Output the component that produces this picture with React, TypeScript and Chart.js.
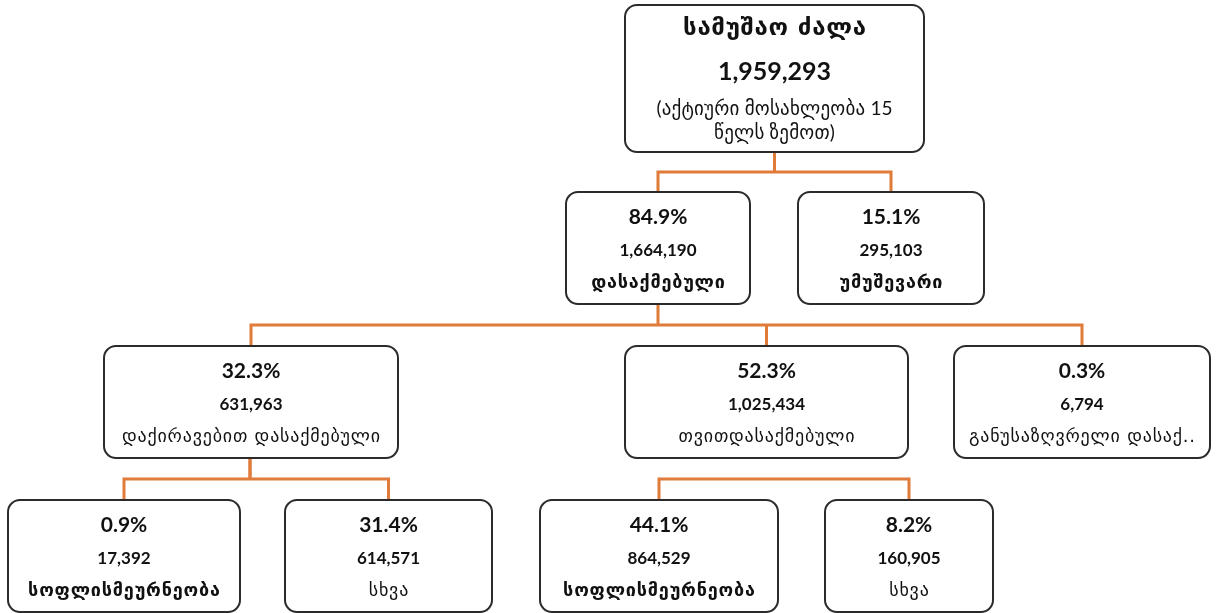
import React, { useEffect, useRef } from "react";
import { Chart, registerables } from "chart.js";

Chart.register(...registerables);

// ---- data ----
const nodeNames = [
  "სამუშაო ძალა",
  "დასაქმებული",
  "უმუშევარი",
  "დაქირავებით დასაქმებული",
  "თვითდასაქმებული",
  "განუსაზღვრელი დასაქ..",
  "სოფლისმეურნეობა",
  "სხვა",
  "სოფლისმეურნეობა",
  "სხვა",
];
const nodeShares = ["", "84.9%", "15.1%", "32.3%", "52.3%", "0.3%", "0.9%", "31.4%", "44.1%", "8.2%"];
const nodeValues = [1959293, 1664190, 295103, 631963, 1025434, 6794, 17392, 614571, 864529, 160905];
const nodeParents = [-1, 0, 0, 1, 1, 1, 3, 3, 4, 4];
const nodeBoldName = [true, true, true, false, false, false, true, false, true, false];
const rootNoteLines = ["(აქტიური მოსახლეობა 15", "წელს ზემოთ)"];

// ---- layout (in chart units) ----
const nodeLevel = [0, 1, 1, 2, 2, 2, 3, 3, 3, 3];
const nodeCenterX = [774.5, 658, 891, 251, 766.5, 1082, 124, 388.5, 659, 909];
const nodeWidth = [299, 184, 186, 294, 283, 256, 232, 207, 238, 168];
const levelTop = [5, 192, 346, 500];
const levelBottom = [152, 304, 458, 612];
const connectorX = [774.5, 658, 250, 766.5];

const ORANGE = "#E07B39";
const BORDER = "#2b2b2b";
const GEO = '"DejaVu Sans"';
const NUM = 'Lato, "DejaVu Sans"';

function roundRect(ctx: CanvasRenderingContext2D, x: number, y: number, w: number, h: number, r: number) {
  ctx.beginPath();
  ctx.moveTo(x + r, y);
  ctx.lineTo(x + w - r, y);
  ctx.arcTo(x + w, y, x + w, y + r, r);
  ctx.lineTo(x + w, y + h - r);
  ctx.arcTo(x + w, y + h, x + w - r, y + h, r);
  ctx.lineTo(x + r, y + h);
  ctx.arcTo(x, y + h, x, y + h - r, r);
  ctx.lineTo(x, y + r);
  ctx.arcTo(x, y, x + r, y, r);
  ctx.closePath();
}

function spacedText(ctx: any, text: string, x: number, y: number, spacing: number) {
  ctx.letterSpacing = `${spacing}px`;
  ctx.fillText(text, x + spacing / 2, y);
  ctx.letterSpacing = "0px";
}

const treePlugin = {
  id: "tree",
  beforeDatasetsDraw(chart: any) {
    const ctx: CanvasRenderingContext2D = chart.ctx;
    const xs = chart.scales.x;
    const ys = chart.scales.y;
    ctx.save();
    ctx.strokeStyle = ORANGE;
    ctx.lineWidth = 3;
    ctx.lineCap = "butt";
    nodeNames.forEach((_, p) => {
      const kids = nodeParents.map((pp, i) => (pp === p ? i : -1)).filter((i) => i >= 0);
      if (!kids.length) return;
      const lv = nodeLevel[p];
      const px = xs.getPixelForValue(connectorX[lv] ?? nodeCenterX[p]);
      const py0 = ys.getPixelForValue(levelBottom[lv]);
      const childTop = ys.getPixelForValue(levelTop[lv + 1]);
      const midY = (py0 + childTop) / 2;
      const kxs = kids.map((k) => xs.getPixelForValue(nodeCenterX[k]));
      ctx.beginPath();
      ctx.moveTo(px, py0);
      ctx.lineTo(px, midY);
      ctx.moveTo(Math.min(...kxs) - 1.5, midY);
      ctx.lineTo(Math.max(...kxs) + 1.5, midY);
      kxs.forEach((kx) => {
        ctx.moveTo(kx, midY);
        ctx.lineTo(kx, childTop);
      });
      ctx.stroke();
    });
    ctx.restore();
  },
  afterDatasetsDraw(chart: any) {
    const ctx: CanvasRenderingContext2D = chart.ctx;
    const xs = chart.scales.x;
    const ys = chart.scales.y;
    ctx.save();
    nodeNames.forEach((name, i) => {
      const lv = nodeLevel[i];
      const cx = xs.getPixelForValue(nodeCenterX[i]);
      const left = xs.getPixelForValue(nodeCenterX[i] - nodeWidth[i] / 2);
      const right = xs.getPixelForValue(nodeCenterX[i] + nodeWidth[i] / 2);
      const top = ys.getPixelForValue(levelTop[lv]);
      const bottom = ys.getPixelForValue(levelBottom[lv]);
      roundRect(ctx, left, top, right - left, bottom - top, 12);
      ctx.fillStyle = "#ffffff";
      ctx.fill();
      ctx.strokeStyle = BORDER;
      ctx.lineWidth = 2;
      ctx.stroke();

      ctx.fillStyle = "#111111";
      ctx.textAlign = "center";
      ctx.textBaseline = "middle";
      const valueText = nodeValues[i].toLocaleString("en-US");
      if (lv === 0) {
        ctx.font = `bold 24px ${GEO}`;
        spacedText(ctx, name, cx, top + 24, 0.7);
        ctx.font = `bold 25px ${NUM}`;
        ctx.fillText(valueText, cx, top + 67);
        ctx.font = `19px ${NUM}`;
        rootNoteLines.forEach((ln, j) => spacedText(ctx, ln, cx, top + 104 + j * 24, 0.2));
      } else {
        ctx.font = `bold 21px ${NUM}`;
        ctx.fillText(nodeShares[i], cx, top + 25);
        ctx.font = `bold 17px ${NUM}`;
        ctx.fillText(valueText, cx, top + 59);
        ctx.font = `${nodeBoldName[i] ? "bold " : ""}18px ${GEO}`;
        spacedText(ctx, name, cx, top + 91, 0.8);
      }
    });
    ctx.restore();
  },
};

export default function App() {
  const ref = useRef<HTMLCanvasElement>(null);
  useEffect(() => {
    document.body.style.margin = "0";
    const canvas = ref.current!;
    const chart = new Chart(canvas, {
      type: "scatter",
      data: {
        datasets: [
          {
            label: "nodes",
            data: nodeNames.map((_, i) => ({
              x: nodeCenterX[i],
              y: (levelTop[nodeLevel[i]] + levelBottom[nodeLevel[i]]) / 2,
            })),
            pointRadius: 0,
          },
        ],
      },
      options: {
        animation: false,
        responsive: false,
        devicePixelRatio: 1,
        layout: { padding: 0 },
        plugins: { legend: { display: false }, tooltip: { enabled: false } },
        scales: {
          x: { type: "linear", min: 0, max: 1217, display: false },
          y: { type: "linear", min: 0, max: 613, reverse: true, display: false },
        },
      },
      plugins: [treePlugin],
    });
    return () => chart.destroy();
  }, []);
  return (
    <div style={{ width: 1217, height: 613, background: "#fff" }}>
      <canvas ref={ref} width={1217} height={613} />
    </div>
  );
}
